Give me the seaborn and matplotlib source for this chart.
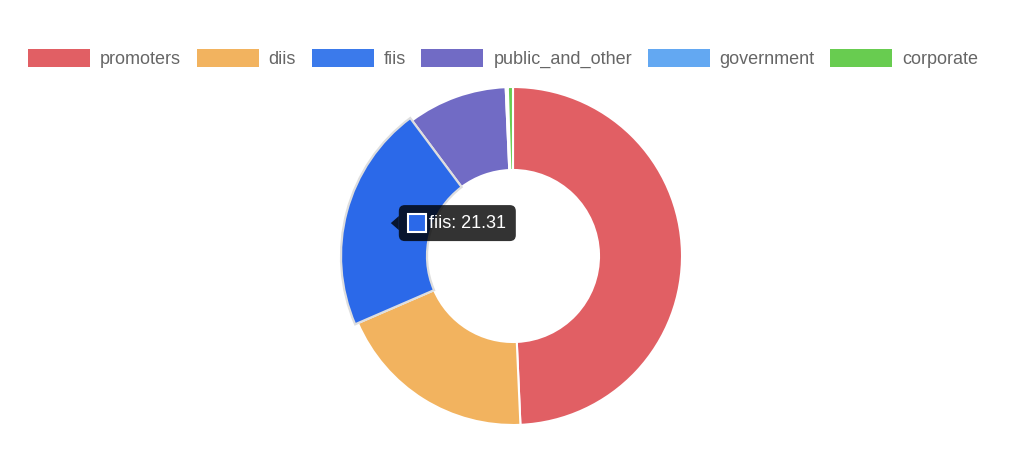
import matplotlib
matplotlib.use("Agg")
import matplotlib.pyplot as plt
import seaborn as sns
import numpy as np
from matplotlib.patches import Rectangle, FancyBboxPatch, Polygon

categories = ["promoters", "diis", "fiis", "public_and_other", "government", "corporate"]
values = [49.30, 19.20, 21.31, 9.50, 0.20, 0.49]
colors = ["#e15f64", "#f2b35f", "#3b7aeb", "#716bc5", "#63a8f2", "#68cc50"]
hover_color = "#2b69e9"
hovered = "fiis"

sns.set_theme(style="white")
plt.rcParams["font.family"] = ["Liberation Sans", "DejaVu Sans"]

FW, FH = 1024, 457
fig = plt.figure(figsize=(FW / 100, FH / 100), dpi=100)
cx, cy_top = 513, 256
half = 180
ax = fig.add_axes([(cx - half) / FW, (FH - cy_top - half) / FH, 2 * half / FW, 2 * half / FH])

R, W = 169, 83
hi = categories.index(hovered)
face = [hover_color if c == hovered else col for c, col in zip(categories, colors)]
wedges, _ = ax.pie(values, colors=face, startangle=90, counterclock=False, radius=R,
                   wedgeprops=dict(width=W, edgecolor="white", linewidth=1.5))
ax.set_xlim(-half, half)
ax.set_ylim(-half, half)
ax.set_aspect("equal")
ax.axis("off")

# hovered slice enlarged with light border
w = wedges[hi]
w.set_radius(R + 3)
w.set_width(W + 3)
w.set_edgecolor("#dedede")
w.set_linewidth(1.6)
w.set_zorder(3)

# tooltip at the hovered wedge middle
theta = np.deg2rad((w.theta1 + w.theta2) / 2)
rm = R - W / 2
tx, ty = rm * np.cos(theta), rm * np.sin(theta)
bx0 = tx + 9
bw, bh = 117, 36
ax.add_patch(FancyBboxPatch((bx0, ty - bh / 2), bw, bh, boxstyle="round,pad=0,rounding_size=6",
                            facecolor=(0, 0, 0, 0.8), edgecolor="none", zorder=10, clip_on=False))
ax.add_patch(Polygon([[tx + 1, ty], [bx0, ty + 7], [bx0, ty - 7]], closed=True,
                     facecolor=(0, 0, 0, 0.8), edgecolor="none", zorder=10, clip_on=False))
ax.add_patch(FancyBboxPatch((bx0 + 9, ty - 9), 18, 18, boxstyle="square,pad=0",
                            facecolor=hover_color, edgecolor="white", linewidth=1.5, zorder=11))
ax.text(bx0 + 30, ty, f"{hovered}: {values[hi]:.2f}", color="white", fontsize=13,
        va="center", ha="left", zorder=12)

# legend laid out like Chart.js: box, gap, label, gap
box_w, box_h, gap_in, gap_out = 62, 18, 10, 15
legend_y = FH - 58
renderer = fig.canvas.get_renderer()
texts = []
for lab in categories:
    t = fig.text(0, 0, lab, fontsize=13, color="#666666", va="center_baseline", ha="left",
                 transform=None)
    texts.append(t)
widths = [t.get_window_extent(renderer).width for t in texts]
x = 28
for lab, col, t, wd in zip(categories, colors, texts, widths):
    fig.patches.append(Rectangle((x, legend_y - box_h / 2), box_w, box_h, facecolor=col,
                                 edgecolor="none", transform=None, figure=fig))
    t.set_position((x + box_w + gap_in, legend_y + 1))
    x += box_w + gap_in + wd + gap_out + 0.6

fig.savefig("out.png", dpi=100, facecolor="white")
